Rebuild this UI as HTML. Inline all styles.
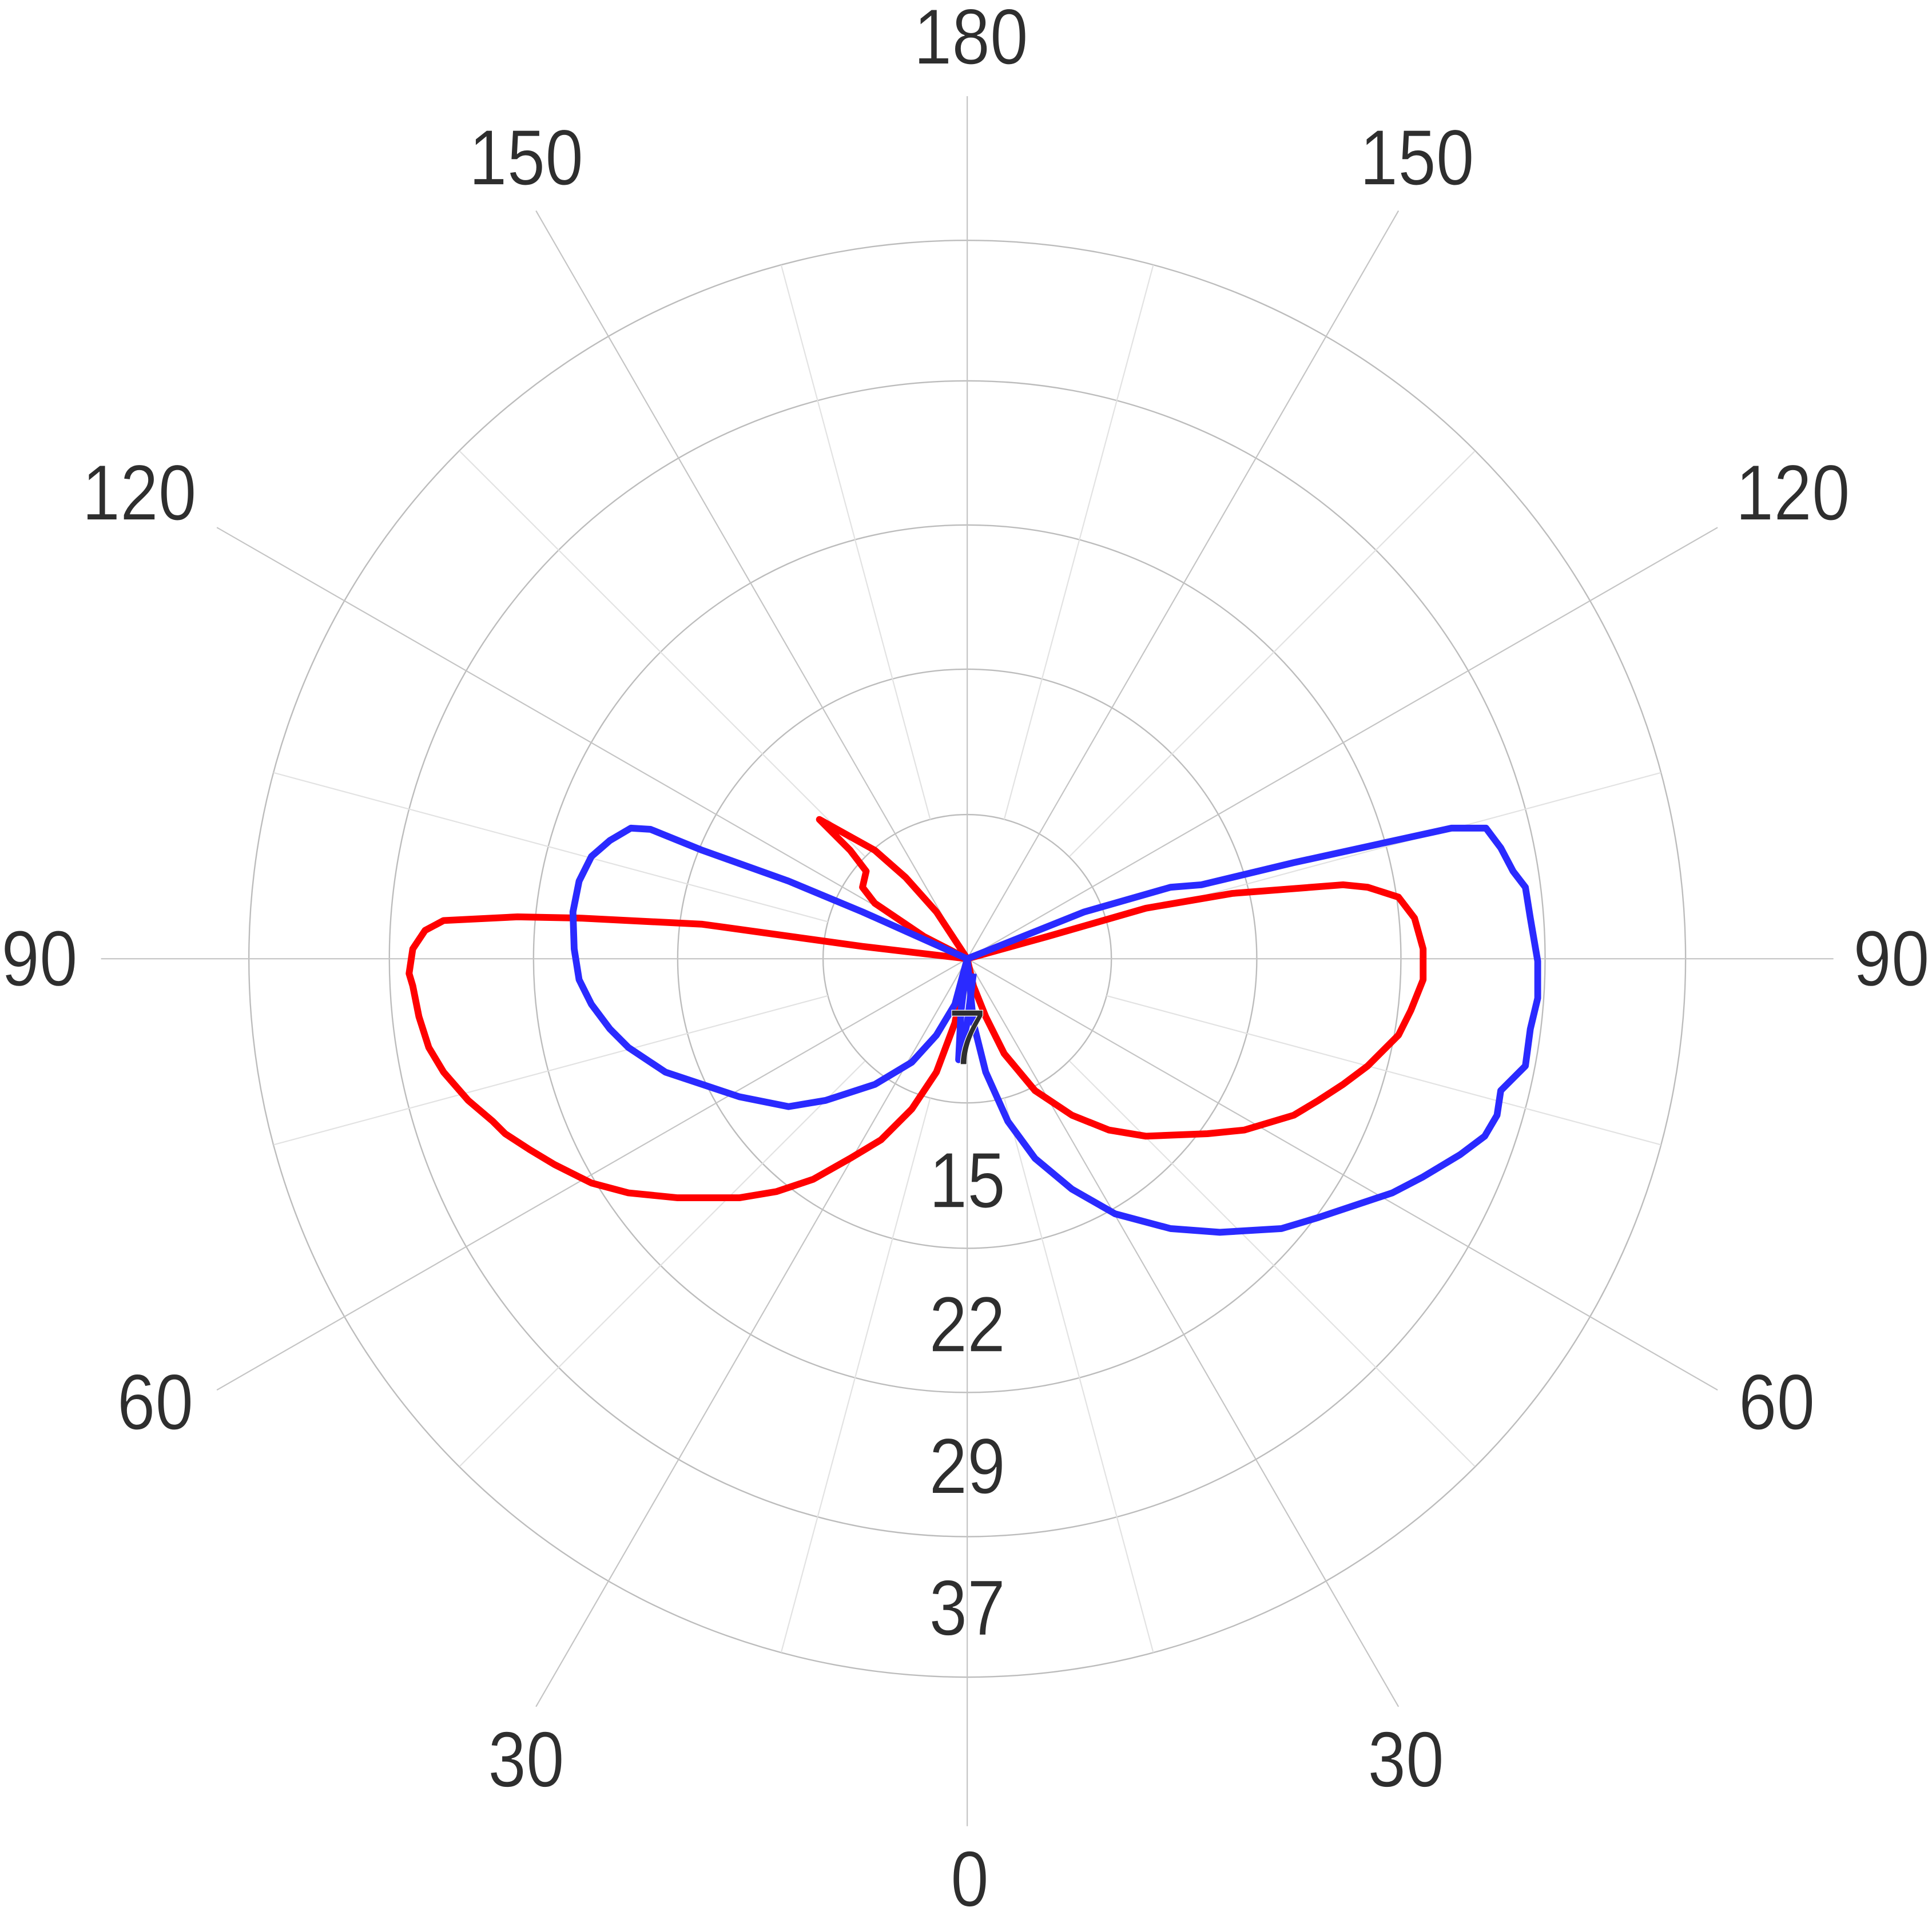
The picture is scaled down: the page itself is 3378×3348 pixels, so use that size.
<!DOCTYPE html>
<html><head><meta charset="utf-8"><style>
html,body{margin:0;padding:0;background:#fff;}
svg{display:block;}
text{font-family:"Liberation Sans",sans-serif;fill:#2e2e2e;font-size:64px;text-anchor:middle;dominant-baseline:central;stroke:#fff;stroke-width:0.6px;paint-order:normal;}
</style></head><body>
<svg width="3378" height="3348" viewBox="0 0 1568 1554" xmlns="http://www.w3.org/2000/svg">
<rect width="1568" height="1554" fill="#fff"/>
<g fill="none" stroke="#bcbcbc" stroke-width="1.1">
<circle cx="785" cy="778" r="117"/>
<circle cx="785" cy="778" r="235"/>
<circle cx="785" cy="778" r="352"/>
<circle cx="785" cy="778" r="469"/>
<circle cx="785" cy="778" r="583"/>
</g>
<g stroke="#c4c4c4" stroke-width="1">
<line x1="785" y1="778" x2="785" y2="78"/>
<line x1="785" y1="778" x2="785" y2="1482"/>
<line x1="785" y1="778" x2="82" y2="778"/>
<line x1="785" y1="778" x2="1488" y2="778"/>
<line x1="785" y1="778" x2="435" y2="171"/>
<line x1="785" y1="778" x2="1135" y2="171"/>
<line x1="785" y1="778" x2="435" y2="1385"/>
<line x1="785" y1="778" x2="1135" y2="1385"/>
<line x1="785" y1="778" x2="176" y2="428"/>
<line x1="785" y1="778" x2="1394" y2="428"/>
<line x1="785" y1="778" x2="176" y2="1128"/>
<line x1="785" y1="778" x2="1394" y2="1128"/>
</g>
<g stroke="#e2e2e2" stroke-width="1">
<line x1="755" y1="665" x2="634" y2="215"/>
<line x1="815" y1="665" x2="936" y2="215"/>
<line x1="755" y1="891" x2="634" y2="1341"/>
<line x1="815" y1="891" x2="936" y2="1341"/>
<line x1="702" y1="695" x2="373" y2="366"/>
<line x1="868" y1="695" x2="1197" y2="366"/>
<line x1="702" y1="861" x2="373" y2="1190"/>
<line x1="868" y1="861" x2="1197" y2="1190"/>
<line x1="672" y1="748" x2="222" y2="627"/>
<line x1="898" y1="748" x2="1348" y2="627"/>
<line x1="672" y1="808" x2="222" y2="929"/>
<line x1="898" y1="808" x2="1348" y2="929"/>
</g>
<g fill="none" stroke-width="5.5" stroke-linejoin="round">
<polyline stroke="#ff0000" points="785,778 700,768 570,750 470,745 420,744 360,747 345,755 335,770 332,790 335,800 340,825 348,850 360,870 380,893 400,910 410,920 430,933 450,945 480,960 510,968 550,972 600,972 630,967 660,957 690,940 715,925 740,900 760,870 775,830 785,778"/>
<polyline stroke="#ff0000" points="785,778 760,740 735,712 710,690 665,665 690,690 703,707 700,720 710,733 750,760 785,778"/>
<polyline stroke="#ff0000" points="785,778 850,760 930,737 1000,725 1090,718 1110,720 1135,728 1148,745 1155,770 1155,795 1145,820 1135,840 1110,865 1090,880 1070,893 1050,905 1010,917 980,920 930,922 900,917 870,905 840,885 815,855 800,825 790,800 785,778"/>
<polyline stroke="#2a2aff" points="785,778 700,740 640,715 570,690 528,673 512,672 495,682 480,695 470,715 465,740 466,770 470,795 480,815 495,835 510,850 540,870 570,880 600,890 640,898 670,893 710,880 740,862 760,840 775,815 785,778"/>
<polyline stroke="#2a2aff" points="785,778 880,740 950,720 975,718 1050,700 1178,672 1206,672 1218,688 1228,707 1238,720 1242,745 1248,780 1248,810 1242,835 1238,865 1218,885 1215,905 1205,922 1185,937 1155,955 1130,968 1100,978 1070,988 1040,997 990,1000 950,997 905,985 870,965 840,940 818,910 800,870 790,830 785,778"/>
<polyline stroke="#2a2aff" points="785,778 780,820 778,860 785,830 790,790"/>
</g>
<g transform="translate(788,30) scale(0.87,1)"><text>180</text></g>
<g transform="translate(427,128) scale(0.87,1)"><text>150</text></g>
<g transform="translate(1150,128) scale(0.87,1)"><text>150</text></g>
<g transform="translate(113,400) scale(0.87,1)"><text>120</text></g>
<g transform="translate(1455,400) scale(0.87,1)"><text>120</text></g>
<g transform="translate(32,778) scale(0.87,1)"><text>90</text></g>
<g transform="translate(1535,778) scale(0.87,1)"><text>90</text></g>
<g transform="translate(126,1138) scale(0.87,1)"><text>60</text></g>
<g transform="translate(1442,1138) scale(0.87,1)"><text>60</text></g>
<g transform="translate(427,1428) scale(0.87,1)"><text>30</text></g>
<g transform="translate(1141,1428) scale(0.87,1)"><text>30</text></g>
<g transform="translate(787,1525) scale(0.87,1)"><text>0</text></g>
<g transform="translate(785,842) scale(0.87,1)"><text>7</text></g>
<g transform="translate(785,958) scale(0.87,1)"><text>15</text></g>
<g transform="translate(785,1075) scale(0.87,1)"><text>22</text></g>
<g transform="translate(785,1190) scale(0.87,1)"><text>29</text></g>
<g transform="translate(785,1305) scale(0.87,1)"><text>37</text></g>
</svg>
</body></html>
